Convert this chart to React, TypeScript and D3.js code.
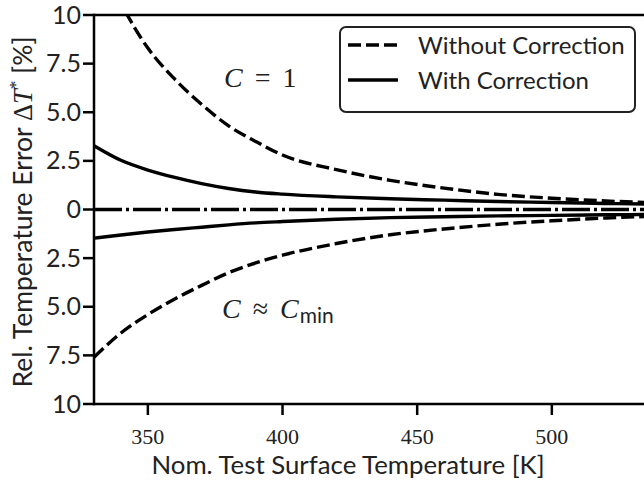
import React from "react";
import * as d3 from "d3";

// nominal test surface temperature [K]
const temps = [330, 340, 350, 360, 370, 380, 390, 400, 420, 440, 460, 480, 500, 520, 540];
// relative temperature error [%]
const withoutC1 = [13.5, 10.6, 8.3, 6.7, 5.4, 4.3, 3.5, 2.8, 2.05, 1.5, 1.1, 0.78, 0.58, 0.44, 0.33];
const withC1 = [3.28, 2.53, 2.03, 1.65, 1.33, 1.08, 0.9, 0.79, 0.65, 0.55, 0.48, 0.41, 0.36, 0.31, 0.27];
const withCmin = [-1.47, -1.31, -1.16, -1.03, -0.91, -0.79, -0.69, -0.62, -0.5, -0.42, -0.37, -0.33, -0.3, -0.27, -0.25];
const withoutCmin = [-7.6, -6.35, -5.4, -4.6, -3.9, -3.25, -2.75, -2.35, -1.75, -1.3, -1.0, -0.76, -0.58, -0.44, -0.33];

const xTicks = [350, 400, 450, 500];
const yTicks = [10, 7.5, 5, 2.5, 0, -2.5, -5, -7.5, -10];
const yTickLabels = ["10", "7.5", "5.0", "2.5", "0", "2.5", "5.0", "7.5", "10"];
const legendItems = ["Without Correction", "With Correction"];

const W = 644;
const H = 482;
const sans = "Lato, 'DejaVu Sans', sans-serif";
const serif = "'Liberation Serif', serif";

export default function App() {
  const x = d3.scaleLinear().domain([330, 550]).range([94, 686.5]);
  const y = d3.scaleLinear().domain([-10, 10]).range([404, 15]);

  const line = d3
    .line<number>()
    .x((_, i) => x(temps[i]))
    .y((d) => y(d))
    .curve(d3.curveMonotoneX);

  const dashed = "13,5";
  const lw = 3.4;

  return (
    <svg
      width={W}
      height={H}
      style={{ position: "absolute", left: 0, top: 0, background: "#fff" }}
    >
      <defs>
        <clipPath id="plot">
          <rect x={x(330)} y={y(10)} width={x(550) - x(330)} height={y(-10) - y(10)} />
        </clipPath>
      </defs>

      <g clipPath="url(#plot)" fill="none" stroke="#000" strokeWidth={lw}>
        <line
          x1={x(330)}
          x2={x(550)}
          y1={y(0)}
          y2={y(0)}
          strokeDasharray="28,4,3,4"
        />
        <path d={line(withoutC1) ?? ""} strokeDasharray={dashed} />
        <path d={line(withC1) ?? ""} />
        <path d={line(withCmin) ?? ""} />
        <path d={line(withoutCmin) ?? ""} strokeDasharray={dashed} />
      </g>

      {/* spines */}
      <g stroke="#000" strokeWidth={2.5} fill="none">
        <line x1={x(330)} x2={W} y1={y(10)} y2={y(10)} />
        <line x1={x(330)} x2={W} y1={y(-10)} y2={y(-10)} />
        <line x1={x(330)} x2={x(330)} y1={y(10) - 1.25} y2={y(-10) + 1.25} />
      </g>

      {/* x axis */}
      {xTicks.map((t) => (
        <g key={t}>
          <line x1={x(t)} x2={x(t)} y1={y(-10)} y2={y(-10) + 11} stroke="#000" strokeWidth={2.5} />
          <text x={x(t)} y={444} textAnchor="middle" fontFamily={serif} fontSize={22} fill="#222">
            {t}
          </text>
        </g>
      ))}
      <text x={348} y={474} textAnchor="middle" fontFamily={sans} fontSize={25.8} fill="#222">
        Nom. Test Surface Temperature [K]
      </text>

      {/* y axis */}
      {yTicks.map((t, i) => (
        <g key={i}>
          <line x1={x(330) - 11} x2={x(330)} y1={y(t)} y2={y(t)} stroke="#000" strokeWidth={2.5} />
          <text x={81} y={y(t) + 8.5} textAnchor="end" fontFamily={sans} fontSize={25} fill="#222">
            {yTickLabels[i]}
          </text>
        </g>
      ))}
      <text
        transform="translate(32,212) rotate(-90)"
        textAnchor="middle"
        fontFamily={sans}
        fontSize={26.5}
        fill="#222"
      >
        Rel. Temperature Error{" "}
        <tspan fontFamily={serif}>Δ</tspan>
        <tspan fontFamily={serif} fontStyle="italic">T</tspan>
        <tspan fontFamily={serif} fontSize={17} dy={-11}>*</tspan>
        <tspan dy={11}> [%]</tspan>
      </text>

      {/* annotations */}
      <text x={224} y={87} fontFamily={serif} fontSize={28} fill="#222">
        <tspan fontStyle="italic">C</tspan>
        <tspan dx={12}>=</tspan>
        <tspan dx={12}>1</tspan>
      </text>
      <text x={222} y={318} fontFamily={serif} fontSize={28} fill="#222">
        <tspan fontStyle="italic">C</tspan>
        <tspan dx={12}>≈</tspan>
        <tspan dx={12} fontStyle="italic">C</tspan>
        <tspan fontFamily={sans} fontSize={21} dy={5} dx={1}>min</tspan>
      </text>

      {/* legend */}
      <rect x={340} y={27} width={295} height={85} rx={6} fill="#fff" stroke="#222" strokeWidth={2} />
      {legendItems.map((label, i) => {
        const ly = 45 + i * 35;
        return (
          <g key={label}>
            <line
              x1={348}
              x2={398}
              y1={ly}
              y2={ly}
              stroke="#000"
              strokeWidth={lw}
              strokeDasharray={i === 0 ? dashed : undefined}
            />
            <text x={418} y={ly + 8.5} fontFamily={sans} fontSize={24} fill="#222">
              {label}
            </text>
          </g>
        );
      })}
    </svg>
  );
}
